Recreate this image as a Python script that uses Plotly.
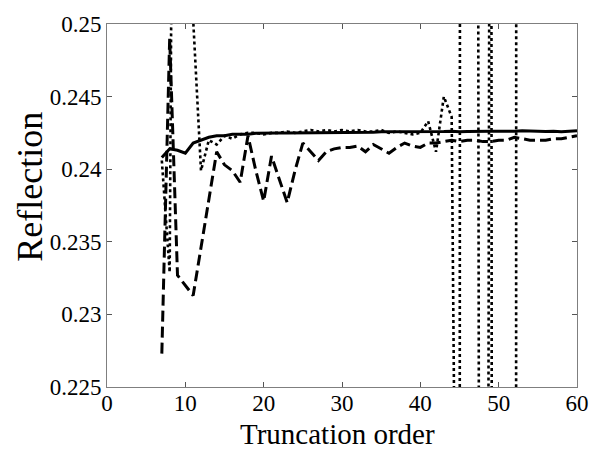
import plotly.graph_objects as go

order_a = list(range(7, 61))
solid_vals = [0.2408, 0.2414, 0.2413, 0.2411, 0.2418, 0.2420, 0.2422, 0.2423, 0.2423, 0.2424,
              0.2424, 0.2424, 0.24248, 0.2425, 0.2425, 0.2425, 0.2425, 0.2425, 0.2425, 0.2425,
              0.2425, 0.2425, 0.2425, 0.2425, 0.24252, 0.24255, 0.24255, 0.24255, 0.24258, 0.24258,
              0.24258, 0.2426, 0.24258, 0.24258, 0.2426, 0.24255, 0.2426, 0.24262, 0.24258, 0.2426,
              0.24262, 0.2426, 0.24262, 0.24262, 0.2426, 0.24262, 0.24265, 0.24262, 0.24258, 0.2426,
              0.24262, 0.24258, 0.24262, 0.24265]
dashed_vals = [0.2273, 0.2490, 0.2327, 0.2320, 0.2313, 0.2346, 0.2379, 0.2412, 0.2403, 0.2399,
               0.2391, 0.2423, 0.2399, 0.2378, 0.2409, 0.2393, 0.2377, 0.2399, 0.2418, 0.2412,
               0.2406, 0.2412, 0.2414, 0.2415, 0.2415, 0.2416, 0.2412, 0.2417, 0.2414, 0.2411,
               0.2415, 0.2418, 0.2416, 0.2415, 0.2418, 0.2418, 0.2419, 0.2420, 0.2419, 0.2420,
               0.2420, 0.2419, 0.2419, 0.2420, 0.2420, 0.2422, 0.2421, 0.2420, 0.2420, 0.2420,
               0.2421, 0.2421, 0.2422, 0.2423]
order_b = list(range(7, 54))
dotted_vals = [0.2406, 0.2329, 0.323, 0.40, 0.2503, 0.2399, 0.2420, 0.2417, 0.2423, 0.2421,
               0.2424, 0.2425, 0.2425, 0.2424, 0.2425, 0.2425, 0.2426, 0.2425, 0.2426, 0.2427,
               0.2426, 0.2427, 0.2426, 0.2427, 0.2426, 0.2427, 0.2426, 0.2426, 0.2427, 0.2425,
               0.2426, 0.2425, 0.2424, 0.2425, 0.2433, 0.2412, 0.2450, 0.2436, 0.18, 1.5,
               0.40, 0.023, 0.311, -0.45, -0.3, -0.3, 2.0]

x_ticks = [0, 10, 20, 30, 40, 50, 60]
y_ticks = [0.225, 0.23, 0.235, 0.24, 0.245, 0.25]
y_tick_text = ["0.225", "0.23", "0.235", "0.24", "0.245", "0.25"]

FONT = "'Liberation Serif', 'Times New Roman', serif"

fig = go.Figure()
fig.add_trace(go.Scatter(x=order_b, y=dotted_vals, mode="lines",
                         line=dict(color="black", width=2.6, dash="3px,3px"), showlegend=False))
fig.add_trace(go.Scatter(x=order_a, y=dashed_vals, mode="lines",
                         line=dict(color="black", width=3, dash="11px,5px"), showlegend=False))
fig.add_trace(go.Scatter(x=order_a, y=solid_vals, mode="lines",
                         line=dict(color="black", width=3), showlegend=False))

axis_common = dict(showline=True, linecolor="#7f7f7f", linewidth=1, mirror="ticks",
                   ticks="inside", ticklen=5, tickcolor="#555555", tickwidth=1,
                   showgrid=False, zeroline=False,
                   tickfont=dict(family=FONT, size=23, color="black"))

fig.update_layout(
    width=601, height=455,
    margin=dict(l=107, r=21, t=14, b=68),
    paper_bgcolor="white", plot_bgcolor="white",
    xaxis=dict(range=[0, 60], tickvals=x_ticks, ticklabelstandoff=-5, **axis_common),
    yaxis=dict(range=[0.225, 0.25], tickvals=y_ticks, ticktext=y_tick_text, **axis_common),
    annotations=[
        dict(text="Truncation order", xref="paper", yref="paper", x=0.4905, y=-0.13,
             xanchor="center", yanchor="middle", showarrow=False,
             font=dict(family=FONT, size=29, color="black")),
        dict(text="Reflection", xref="paper", yref="paper", x=-0.163, y=0.553,
             xanchor="center", yanchor="middle", showarrow=False, textangle=-90,
             font=dict(family=FONT, size=36, color="black")),
    ],
)

fig.write_html("out.html")
